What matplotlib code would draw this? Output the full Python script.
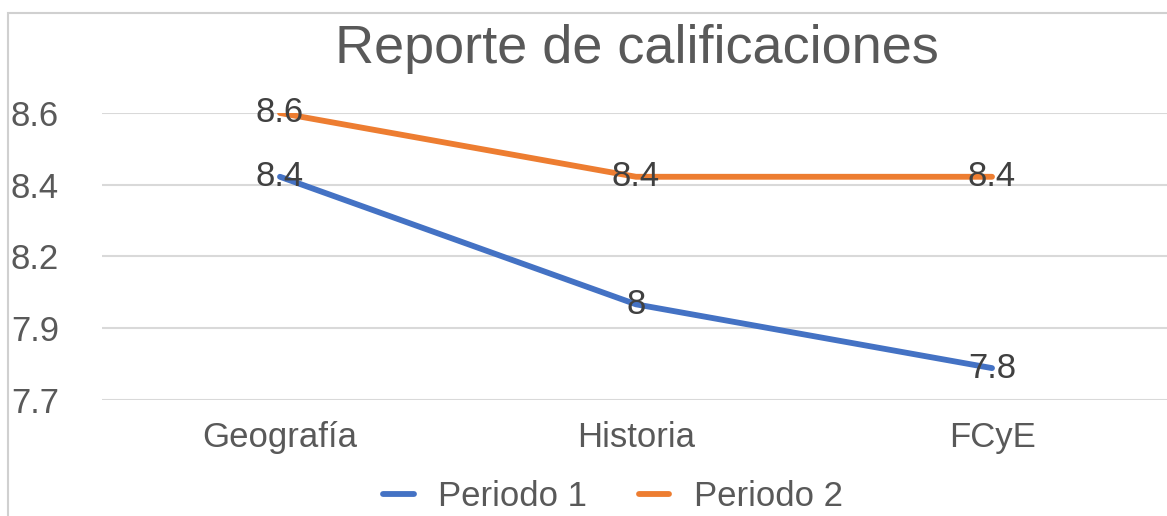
import matplotlib.pyplot as plt
from matplotlib.patches import Rectangle

materias = ['Geografía', 'Historia', 'FCyE']
periodo1 = [8.4, 8.0, 7.8]
periodo2 = [8.6, 8.4, 8.4]
etiquetas1 = ['8.4', '8', '7.8']
etiquetas2 = ['8.6', '8.4', '8.4']
yticks = [7.7, 7.925, 8.15, 8.375, 8.6]
yticklabels = ['7.7', '7.9', '8.2', '8.4', '8.6']

plt.rcParams['font.family'] = ['Liberation Sans', 'DejaVu Sans']
W, H = 1167, 516
fig = plt.figure(figsize=(W / 100, H / 100), dpi=100)

# marco del grafico
fig.patches.append(Rectangle((8 / W, -0.1), 1.2, (H - 13) / H + 0.1, transform=fig.transFigure,
                             fill=False, edgecolor='#d0d0d0', linewidth=1.5))

ax = fig.add_axes([102 / W, (H - 400) / H, 1068 / W, 287 / H])
x = range(len(materias))
ax.plot(x, periodo1, color='#4472C4', linewidth=4.2, label='Periodo 1', solid_capstyle='round', zorder=3)
ax.plot(x, periodo2, color='#ED7D31', linewidth=4.2, label='Periodo 2', solid_capstyle='round', zorder=3)

for i in x:
    ax.text(i, periodo1[i], etiquetas1[i], ha='center', va='center', fontsize=25, color='#404040', zorder=4)
    ax.text(i, periodo2[i], etiquetas2[i], ha='center', va='center', fontsize=25, color='#404040', zorder=4)

ax.set_xlim(-0.5, 2.5)
ax.set_ylim(7.7, 8.6)
ax.set_xticks(list(x))
ax.set_xticklabels(materias)
ax.set_yticks(yticks)
ax.set_yticklabels(yticklabels)
ax.tick_params(axis='both', length=0, labelsize=25, labelcolor='#595959')
ax.tick_params(axis='y', pad=31)
ax.tick_params(axis='x', pad=15)
ax.grid(axis='y', color='#d9d9d9', linewidth=1.5)
ax.set_axisbelow(True)
for s in ax.spines.values():
    s.set_visible(False)

fig.text(637 / W, 1 - 63 / H, 'Reporte de calificaciones', ha='center', va='baseline',
         fontsize=39, color='#595959')

fig.legend(loc='center', bbox_to_anchor=(613 / W, 1 - 497 / H), ncol=2, frameon=False,
           fontsize=25, labelcolor='#595959', handlelength=0.87, columnspacing=1.5, handletextpad=0.7)

fig.savefig('out.png', dpi=100)
